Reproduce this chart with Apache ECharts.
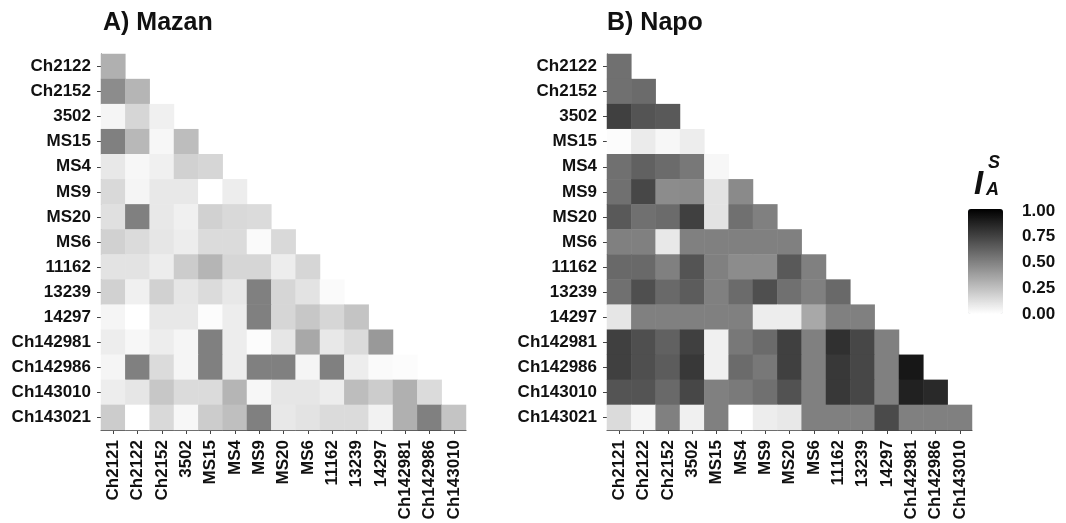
<!DOCTYPE html>
<html>
<head>
<meta charset="utf-8">
<script src="https://cdn.jsdelivr.net/npm/echarts@6/dist/echarts.min.js"></script>
<style>
  html, body { margin: 0; padding: 0; background: #ffffff; }
  #chart { width: 1066px; height: 523px; }
</style>
</head>
<body>
<div id="chart"></div>
<script>
// Markers along the columns (x) and rows (y) of the lower triangle
const colLabels = ['Ch2121', 'Ch2122', 'Ch2152', '3502', 'MS15', 'MS4', 'MS9', 'MS20',
  'MS6', '11162', '13239', '14297', 'Ch142981', 'Ch142986', 'Ch143010'];
const rowLabels = ['Ch2122', 'Ch2152', '3502', 'MS15', 'MS4', 'MS9', 'MS20', 'MS6',
  '11162', '13239', '14297', 'Ch142981', 'Ch142986', 'Ch143010', 'Ch143021'];

// Standardized index of association, row i holds pairs with columns 0..i
const mazanValues = [
  [0.31],
  [0.45, 0.29],
  [0.04, 0.16, 0.06],
  [0.50, 0.28, 0.03, 0.26],
  [0.09, 0.03, 0.06, 0.18, 0.16],
  [0.15, 0.04, 0.09, 0.09, 0.00, 0.07],
  [0.12, 0.50, 0.09, 0.06, 0.18, 0.15, 0.14],
  [0.18, 0.14, 0.10, 0.07, 0.14, 0.14, 0.02, 0.15],
  [0.11, 0.11, 0.07, 0.20, 0.29, 0.16, 0.16, 0.07, 0.16],
  [0.18, 0.06, 0.18, 0.10, 0.14, 0.09, 0.50, 0.16, 0.11, 0.02],
  [0.04, 0.00, 0.09, 0.09, 0.01, 0.07, 0.50, 0.16, 0.22, 0.16, 0.23],
  [0.07, 0.03, 0.07, 0.04, 0.50, 0.07, 0.01, 0.10, 0.34, 0.09, 0.14, 0.40],
  [0.04, 0.50, 0.14, 0.04, 0.50, 0.07, 0.50, 0.50, 0.04, 0.50, 0.07, 0.02, 0.01],
  [0.07, 0.10, 0.22, 0.14, 0.14, 0.29, 0.03, 0.10, 0.10, 0.07, 0.26, 0.20, 0.31, 0.14],
  [0.20, 0.00, 0.15, 0.03, 0.20, 0.25, 0.50, 0.09, 0.11, 0.14, 0.14, 0.05, 0.31, 0.50, 0.23]
];

const napoValues = [
  [0.56],
  [0.56, 0.58],
  [0.75, 0.67, 0.65],
  [0.01, 0.08, 0.03, 0.07],
  [0.56, 0.62, 0.58, 0.53, 0.03],
  [0.56, 0.72, 0.45, 0.46, 0.11, 0.46],
  [0.65, 0.56, 0.58, 0.75, 0.11, 0.56, 0.50],
  [0.50, 0.50, 0.09, 0.50, 0.50, 0.50, 0.50, 0.50],
  [0.59, 0.59, 0.50, 0.67, 0.50, 0.45, 0.45, 0.65, 0.50],
  [0.56, 0.69, 0.59, 0.64, 0.50, 0.58, 0.69, 0.56, 0.50, 0.59],
  [0.10, 0.50, 0.50, 0.50, 0.50, 0.50, 0.07, 0.07, 0.34, 0.50, 0.50],
  [0.75, 0.69, 0.62, 0.75, 0.06, 0.53, 0.58, 0.75, 0.50, 0.81, 0.72, 0.50],
  [0.75, 0.69, 0.64, 0.78, 0.06, 0.58, 0.53, 0.75, 0.50, 0.78, 0.72, 0.50, 0.91],
  [0.67, 0.67, 0.59, 0.72, 0.50, 0.52, 0.56, 0.68, 0.50, 0.78, 0.72, 0.50, 0.87, 0.84],
  [0.14, 0.04, 0.50, 0.06, 0.50, 0.00, 0.07, 0.09, 0.50, 0.50, 0.50, 0.71, 0.50, 0.50, 0.50]
];

const panelTitles = ['A) Mazan', 'B) Napo'];

function toCells(rows) {
  const out = [];
  rows.forEach((row, r) => row.forEach((v, c) => out.push([c, r, v])));
  return out;
}

const FONT = '"Liberation Sans", Arial, sans-serif';
const labelStyle = { color: '#111', fontWeight: 'bold', fontSize: 17, fontFamily: FONT };
const lineStyle = { color: '#444', width: 1 };

function catX(gridIndex) {
  return {
    type: 'category', gridIndex, data: colLabels,
    axisLine: { show: true, lineStyle },
    axisTick: { show: true, length: 4, alignWithLabel: true, lineStyle },
    axisLabel: Object.assign({ rotate: 90, margin: 10, interval: 0 }, labelStyle),
    splitLine: { show: false }
  };
}
function catY(gridIndex) {
  return {
    type: 'category', gridIndex, data: rowLabels, inverse: true,
    axisLine: { show: true, lineStyle },
    axisTick: { show: true, length: 4, alignWithLabel: true, lineStyle },
    axisLabel: Object.assign({ margin: 10, interval: 0 }, labelStyle),
    splitLine: { show: false }
  };
}

const chart = echarts.init(document.getElementById('chart'), null, { renderer: 'canvas' });

const titleText = { fontSize: 25, fontWeight: 'bold', color: '#111', fontFamily: FONT };

chart.setOption({
  backgroundColor: '#ffffff',
  animation: false,
  title: [
    { text: panelTitles[0], left: 103, top: 11, padding: 0, textStyle: titleText },
    { text: panelTitles[1], left: 607, top: 11, padding: 0, textStyle: titleText }
  ],
  grid: [
    { left: 101, top: 54, width: 365, height: 376 },
    { left: 607, top: 54, width: 365, height: 376 },
    { left: 968, top: 211, width: 35, height: 103 }
  ],
  xAxis: [
    catX(0), catX(1),
    { type: 'value', gridIndex: 2, show: false, min: 0, max: 1 }
  ],
  yAxis: [
    catY(0), catY(1),
    { type: 'value', gridIndex: 2, position: 'right', min: 0, max: 1, interval: 0.25,
      axisLine: { show: false }, axisTick: { show: false }, splitLine: { show: false },
      axisLabel: Object.assign({ margin: 19, formatter: v => v.toFixed(2) }, labelStyle) }
  ],
  visualMap: {
    type: 'continuous', min: 0, max: 1, seriesIndex: [0, 1],
    inRange: { color: ['#ffffff', '#000000'] },
    orient: 'vertical', left: 968, top: 209, itemWidth: 35, itemHeight: 105,
    calculable: false, text: null, showLabel: false, padding: 0
  },
  graphic: [
    { type: 'text', left: 974, top: 168,
      style: { text: 'I', font: 'italic bold 33px ' + FONT, fill: '#111' } },
    { type: 'text', left: 988, top: 154,
      style: { text: 'S', font: 'italic bold 18px ' + FONT, fill: '#111' } },
    { type: 'text', left: 986, top: 181,
      style: { text: 'A', font: 'italic bold 18px ' + FONT, fill: '#111' } }
  ],
  series: [
    { type: 'heatmap', xAxisIndex: 0, yAxisIndex: 0, data: toCells(mazanValues),
      itemStyle: { borderWidth: 0 }, emphasis: { disabled: true } },
    { type: 'heatmap', xAxisIndex: 1, yAxisIndex: 1, data: toCells(napoValues),
      itemStyle: { borderWidth: 0 }, emphasis: { disabled: true } }
  ]
});
</script>
</body>
</html>
